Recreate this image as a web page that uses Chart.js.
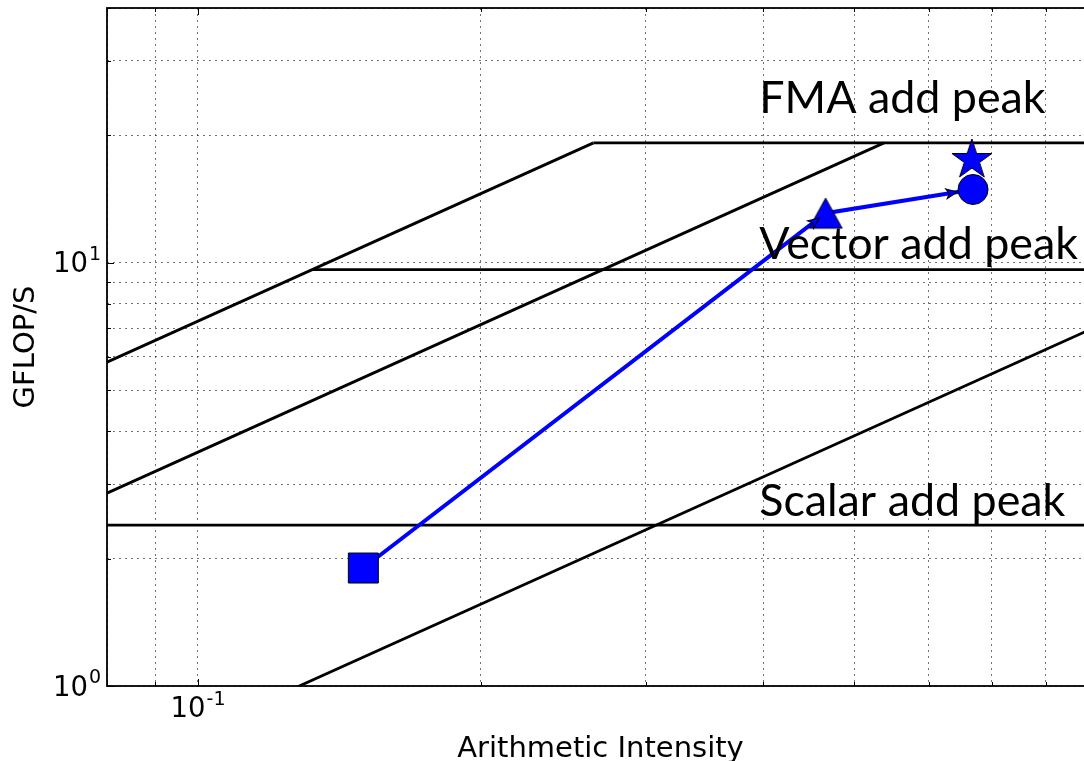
<!DOCTYPE html>
<html>
<head>
<meta charset="utf-8">
<title>Roofline</title>
<script src="https://cdn.jsdelivr.net/npm/chart.js@4.4.1/dist/chart.umd.min.js"></script>
<style>
  html, body { margin: 0; padding: 0; background: #fff; overflow: hidden; }
  #wrap { width: 1110px; height: 761px; }
</style>
</head>
<body>
<div id="wrap"><canvas id="roofline" width="1110" height="761"></canvas></div>
<script>
// axis limits and grid positions (log-log)
const xRange = [0.08, 0.9];
const yRange = [1, 40];
const xGrid = [0.08, 0.09, 0.1, 0.2, 0.3, 0.4, 0.5, 0.6, 0.7, 0.8, 0.9];
const yGrid = [1, 2, 3, 4, 5, 6, 7, 8, 9, 10, 20, 30, 40];
const xMajor = [0.1];
const xMajorExp = ['-1'];
const yMajor = [1, 10];
const yMajorExp = ['0', '1'];

// machine ceilings (GFLOP/s) and memory bandwidths (GB/s)
const ceilingNames = ['FMA add peak', 'Vector add peak', 'Scalar add peak'];
const ceilingGflops = [19.2, 9.63, 2.4];
const ceilingLabelX = [0.396, 0.396, 0.396];
const ceilingLabelY = [22.6, 10.2, 2.52];
const bandwidths = [72.8, 35.7, 7.8];

// measured kernel versions
const kernelAI = [0.15, 0.466, 0.669];
const kernelPerf = [1.9, 13.1, 14.9];
const bestAI = [0.667];
const bestPerf = [17.5];

const BLUE = '#0000ff';

function markerCanvas(size, path) {
  const c = document.createElement('canvas');
  c.width = size; c.height = size;
  const g = c.getContext('2d');
  g.translate(size / 2, size / 2);
  g.beginPath();
  path(g);
  g.closePath();
  g.fillStyle = BLUE;
  g.fill();
  g.lineWidth = 1;
  g.strokeStyle = '#000';
  g.stroke();
  return c;
}

const triangleMarker = markerCanvas(40, g => {
  g.moveTo(0, -15);
  g.lineTo(-16.5, 15);
  g.lineTo(16.5, 15);
});

const starMarker = markerCanvas(48, g => {
  const R = 21, r = R * 0.382;
  for (let i = 0; i < 10; i++) {
    const rad = (i % 2 ? r : R);
    const a = -Math.PI / 2 + i * Math.PI / 5;
    const px = Math.cos(a) * rad, py = Math.sin(a) * rad;
    if (i === 0) g.moveTo(px, py); else g.lineTo(px, py);
  }
});

// roof segments: diagonals stop at the top ceiling, ceilings start at the top bandwidth
const roofSets = [];
bandwidths.forEach(bw => {
  const xEnd = Math.min(xRange[1], ceilingGflops[0] / bw);
  roofSets.push([{ x: xRange[0], y: bw * xRange[0] }, { x: xEnd, y: bw * xEnd }]);
});
ceilingGflops.forEach(peak => {
  const xStart = Math.max(xRange[0], peak / bandwidths[0]);
  roofSets.push([{ x: xStart, y: peak }, { x: xRange[1], y: peak }]);
});

const roofDatasets = roofSets.map(pts => ({
  data: pts,
  showLine: true,
  borderColor: '#000',
  borderWidth: 2.8,
  pointRadius: 0,
  order: 3,
}));

function drawPower(ctx, x, y, base, exp, align) {
  const mainFont = '27.5px "DejaVu Sans"';
  const supFont = '19px "DejaVu Sans"';
  ctx.font = mainFont;
  const wBase = ctx.measureText(base).width;
  ctx.font = supFont;
  const wExp = ctx.measureText(exp).width;
  const total = wBase + wExp + 1;
  let left = x;
  if (align === 'right') left = x - total;
  if (align === 'center') left = x - total / 2;
  ctx.fillStyle = '#000';
  ctx.textAlign = 'left';
  ctx.textBaseline = 'alphabetic';
  ctx.font = mainFont;
  ctx.fillText(base, left, y);
  ctx.font = supFont;
  ctx.fillText(exp, left + wBase + 1, y - 12.4);
}

// small arrow heads where the kernel path reaches the next marker
function drawArrowHeads(ctx, meta) {
  const pts = meta.data;
  const stopShort = [0, 8, 16];
  for (let i = 1; i < pts.length; i++) {
    const p0 = pts[i - 1], p1 = pts[i];
    const ang = Math.atan2(p1.y - p0.y, p1.x - p0.x);
    const tx = p1.x - Math.cos(ang) * stopShort[i];
    const ty = p1.y - Math.sin(ang) * stopShort[i];
    ctx.save();
    ctx.translate(tx, ty);
    ctx.rotate(ang);
    ctx.beginPath();
    ctx.moveTo(0, 0);
    ctx.lineTo(-11, -5);
    ctx.lineTo(-8, 0);
    ctx.lineTo(-11, 5);
    ctx.closePath();
    ctx.fillStyle = BLUE;
    ctx.fill();
    ctx.lineWidth = 1;
    ctx.strokeStyle = '#000';
    ctx.stroke();
    ctx.restore();
  }
}

const frameAndText = {
  id: 'frameAndText',
  afterDatasetsDraw(chart) {
    const { ctx, chartArea: a, scales: { x, y } } = chart;
    ctx.save();

    drawArrowHeads(ctx, chart.getDatasetMeta(1));

    // ceiling labels
    ctx.fillStyle = '#000';
    ctx.font = '44.8px Lato';
    ctx.textAlign = 'left';
    ctx.textBaseline = 'alphabetic';
    ceilingNames.forEach((name, i) => {
      ctx.fillText(name, x.getPixelForValue(ceilingLabelX[i]), y.getPixelForValue(ceilingLabelY[i]));
    });

    // inward ticks
    ctx.strokeStyle = '#000';
    ctx.lineWidth = 1;
    ctx.beginPath();
    xGrid.forEach(v => {
      const px = Math.round(x.getPixelForValue(v)) + 0.5;
      const len = xMajor.includes(v) ? 7 : 4;
      ctx.moveTo(px, a.bottom); ctx.lineTo(px, a.bottom - len);
      ctx.moveTo(px, a.top); ctx.lineTo(px, a.top + len);
    });
    yGrid.forEach(v => {
      const py = Math.round(y.getPixelForValue(v)) + 0.5;
      const len = yMajor.includes(v) ? 7 : 4;
      ctx.moveTo(a.left, py); ctx.lineTo(a.left + len, py);
    });
    ctx.stroke();

    // axes frame
    ctx.lineWidth = 1.8;
    ctx.strokeRect(a.left, a.top, a.right - a.left, a.bottom - a.top);

    // tick labels
    xMajor.forEach((v, i) => drawPower(ctx, x.getPixelForValue(v), a.bottom + 31.3, '10', xMajorExp[i], 'center'));
    yMajor.forEach((v, i) => drawPower(ctx, a.left - 6, y.getPixelForValue(v) + 9.5, '10', yMajorExp[i], 'right'));

    // axis titles
    ctx.font = '29px "DejaVu Sans"';
    ctx.textAlign = 'center';
    ctx.fillText('Arithmetic Intensity', (a.left + a.right) / 2, a.bottom + 70.7);
    ctx.translate(34, (a.top + a.bottom) / 2);
    ctx.rotate(-Math.PI / 2);
    ctx.fillText('GFLOP/S', 0, 0);
    ctx.restore();
  },
};

new Chart(document.getElementById('roofline'), {
  type: 'scatter',
  data: {
    datasets: [
      {
        data: bestAI.map((v, i) => ({ x: v, y: bestPerf[i] })),
        pointStyle: starMarker,
        pointRadius: 21,
        showLine: false,
        order: 0,
      },
      {
        data: kernelAI.map((v, i) => ({ x: v, y: kernelPerf[i] })),
        showLine: true,
        borderColor: BLUE,
        borderWidth: 4,
        pointStyle: ['rect', triangleMarker, 'circle'],
        pointRadius: [21.2, 17, 15],
        pointBackgroundColor: BLUE,
        pointBorderColor: '#000',
        pointBorderWidth: 1,
        order: 1,
      },
      ...roofDatasets,
    ],
  },
  options: {
    responsive: false,
    animation: false,
    devicePixelRatio: 1,
    layout: { autoPadding: false, padding: { top: 8, right: 16, left: 0, bottom: 0 } },
    plugins: { legend: { display: false }, tooltip: { enabled: false } },
    scales: {
      x: {
        type: 'logarithmic',
        min: xRange[0],
        max: xRange[1],
        afterBuildTicks: s => { s.ticks = xGrid.map(v => ({ value: v })); },
        afterFit: s => { s.height = 75; },
        ticks: { display: false, autoSkip: false },
        grid: { color: 'rgba(0,0,0,0.55)', lineWidth: 1, drawTicks: false },
        border: { display: false, dash: [2, 4] },
      },
      y: {
        type: 'logarithmic',
        min: yRange[0],
        max: yRange[1],
        afterBuildTicks: s => { s.ticks = yGrid.map(v => ({ value: v })); },
        afterFit: s => { s.width = 107; },
        ticks: { display: false, autoSkip: false },
        grid: { color: 'rgba(0,0,0,0.55)', lineWidth: 1, drawTicks: false },
        border: { display: false, dash: [2, 4] },
      },
    },
  },
  plugins: [frameAndText],
});
</script>
</body>
</html>
